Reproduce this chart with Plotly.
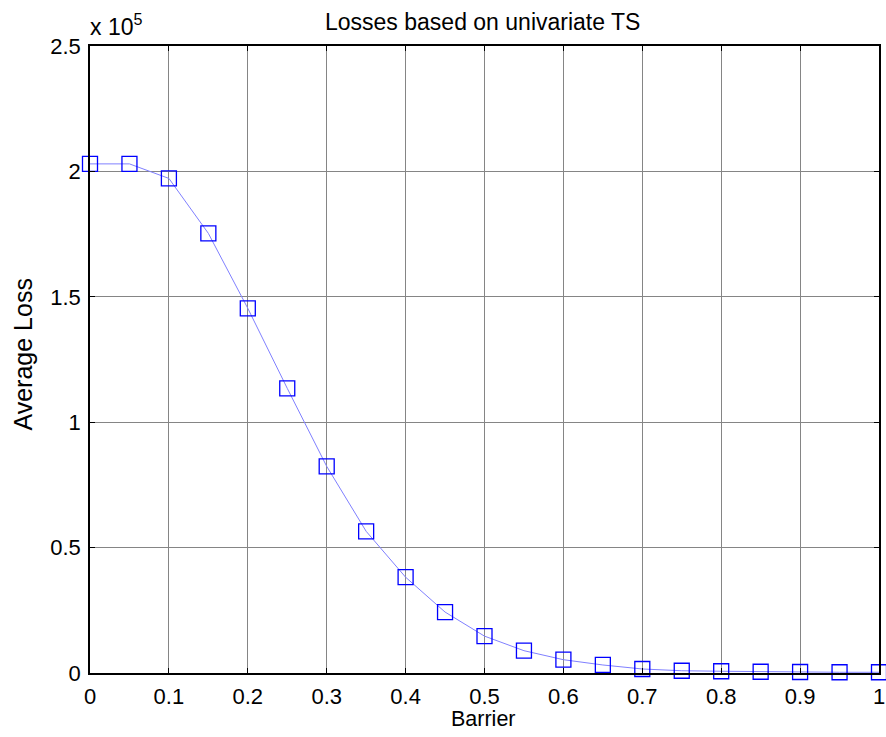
import plotly.graph_objects as go

barrier = [0.0, 0.05, 0.1, 0.15, 0.2, 0.25, 0.3, 0.35, 0.4, 0.45, 0.5,
           0.55, 0.6, 0.65, 0.7, 0.75, 0.8, 0.85, 0.9, 0.95, 1.0]
# Average loss in units of 1e5
avg_loss_e5 = [2.03, 2.03, 1.972, 1.753, 1.454, 1.135, 0.824, 0.565, 0.382,
               0.243, 0.147, 0.089, 0.053, 0.032, 0.016, 0.009, 0.007,
               0.005, 0.004, 0.003, 0.003]
scale = 1e5
avg_loss = [v * scale for v in avg_loss_e5]

x_ticks = [0, 0.1, 0.2, 0.3, 0.4, 0.5, 0.6, 0.7, 0.8, 0.9, 1.0]
x_ticktext = ["0", "0.1", "0.2", "0.3", "0.4", "0.5", "0.6", "0.7", "0.8", "0.9", "1"]
y_ticks_e5 = [0, 0.5, 1, 1.5, 2, 2.5]
y_ticktext = ["0", "0.5", "1", "1.5", "2", "2.5"]

FONT = "Liberation Sans, Arial, Helvetica, sans-serif"
L, R, T, B = 90, 1, 46, 64
W, H = 886, 737
pw = W - L - R
ph = H - T - B

fig = go.Figure()
fig.add_trace(go.Scatter(
    x=barrier, y=avg_loss, mode="lines+markers",
    line=dict(color="#8080ff", width=1),
    marker=dict(symbol="square-open", size=15, color="#0000ff",
                line=dict(color="#0000ff", width=1.3)),
    showlegend=False, cliponaxis=False,
))

axis_common = dict(
    showline=True, linecolor="black", linewidth=1.5, mirror="ticks",
    ticks="inside", ticklen=5, tickcolor="black", tickwidth=1,
    showgrid=True, gridcolor="#858585", gridwidth=1, zeroline=False,
    tickfont=dict(family=FONT, size=22, color="black"),
    ticklabeloverflow="allow",
)

fig.update_layout(
    width=W, height=H,
    margin=dict(l=L, r=R, t=T, b=B, pad=0),
    paper_bgcolor="white", plot_bgcolor="white",
    font=dict(family=FONT, size=22, color="black"),
    xaxis=dict(range=[0, 1], tickvals=x_ticks, ticktext=x_ticktext,
               ticklabelstandoff=3, **axis_common),
    yaxis=dict(range=[0, 2.5 * scale], tickvals=[v * scale for v in y_ticks_e5],
               ticktext=y_ticktext, ticklabelstandoff=3, **axis_common),
    annotations=[
        dict(text="Losses based on univariate TS", xref="paper", yref="paper",
             x=(485 - L) / pw, y=1 + (T - 22) / ph, xanchor="center", yanchor="middle",
             showarrow=False, font=dict(family=FONT, size=23, color="black")),
        dict(text="Barrier", xref="paper", yref="paper",
             x=(486 - L) / pw, y=-(719 - (H - B)) / ph, xanchor="center", yanchor="middle",
             showarrow=False, font=dict(family=FONT, size=21.5, color="black")),
        dict(text="Average Loss", xref="paper", yref="paper", textangle=-90,
             x=-(L - 22) / pw, y=(H - B - 355) / ph, xanchor="center", yanchor="middle",
             showarrow=False, font=dict(family=FONT, size=25, color="black")),
        dict(text="x 10<sup>5</sup>", xref="paper", yref="paper",
             x=-2 / pw, y=1 + (T - 25) / ph, xanchor="left", yanchor="middle",
             showarrow=False, font=dict(family=FONT, size=23, color="black")),
    ],
)

fig.write_html("out.html")
